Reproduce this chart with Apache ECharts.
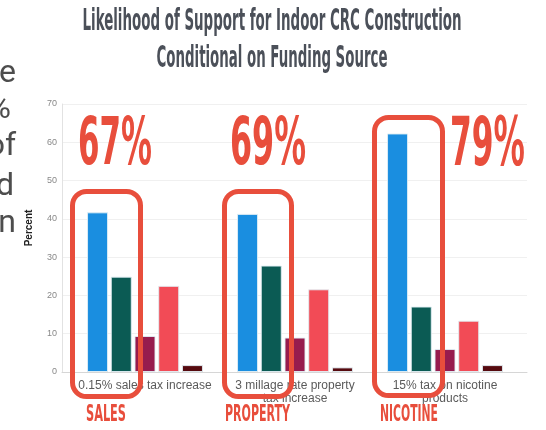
<!DOCTYPE html>
<html>
<head>
<meta charset="utf-8">
<script src="https://cdn.jsdelivr.net/npm/echarts@6/dist/echarts.min.js"></script>
<style>
html, body { margin: 0; padding: 0; background: #fff; }
#chart { width: 546px; height: 430px; }
</style>
</head>
<body>
<div id="chart"></div>
<script>
// funding sources (x categories)
const categories = ['0.15% sales tax increase', '3 millage rate property\ntax increase', '15% tax on nicotine\nproducts'];
// percent of respondents per answer
const veryLikely = [41.7, 41.3, 62.3];
const somewhatLikely = [24.9, 27.8, 17.1];
const somewhatUnlikely = [9.4, 9.0, 6.0];
const veryUnlikely = [22.5, 21.6, 13.4];
const dontKnow = [1.8, 1.2, 1.8];
const supportTotals = ['67%', '69%', '79%'];
const sourceTags = ['SALES', 'PROPERTY', 'NICOTINE'];
const yTicks = [0, 10, 20, 30, 40, 50, 60, 70];

const RED = '#e84e3c';
const CONDENSED = '"Liberation Sans Narrow", "DejaVu Sans Condensed", sans-serif';

// squeeze a text to a given pixel width (the slide uses a very narrow display font)
const measureCtx = document.createElement('canvas').getContext('2d');
const squeeze = (text, font, width) => {
  measureCtx.font = font;
  return width / measureCtx.measureText(text).width;
};

const fitText = (text, cx, cy, width, size, color, sy) => {
  const font = 'bold ' + size + 'px ' + CONDENSED;
  return {
    type: 'text',
    x: cx,
    y: cy,
    scaleX: squeeze(text, font, width),
    scaleY: sy || 1,
    z: 120,
    style: { text: text, x: 0, y: 0, font: font, fill: color, textAlign: 'center', textVerticalAlign: 'middle' }
  };
};

const box = (x, y, w, h) => ({
  type: 'rect',
  z: 110,
  shape: { x: x, y: y, width: w, height: h, r: 14 },
  style: { fill: 'none', stroke: RED, lineWidth: 5 }
});

const sideText = (text, x, y) => ({
  type: 'text',
  x: x,
  y: y,
  z: 100,
  style: { text: text, x: 0, y: 0, font: '32px Roboto, sans-serif', fill: '#4d4d4d', textAlign: 'right', textVerticalAlign: 'bottom' }
});

const makeSeries = (name, data, color) => ({
  name: name,
  type: 'bar',
  xAxisIndex: 1,
  yAxisIndex: 1,
  data: data,
  barWidth: 21,
  barGap: '13%',
  itemStyle: { color: color, borderColor: 'rgba(225,238,244,0.9)', borderWidth: 1 },
  emphasis: { disabled: true }
});

const chart = echarts.init(document.getElementById('chart'));

const option = {
  animation: false,
  backgroundColor: '#fff',
  // grid 0: frame, ticks and gridlines; grid 1: the bars
  grid: [
    { left: 62, right: 19, top: 104, bottom: 58 },
    { left: 70, right: 26, top: 104, bottom: 58 }
  ],
  xAxis: [
    {
      gridIndex: 0,
      type: 'value',
      min: 0,
      max: 1,
      axisLine: { show: true, lineStyle: { color: '#d6d6d6' } },
      axisTick: { show: false },
      axisLabel: { show: false },
      splitLine: { show: false }
    },
    {
      gridIndex: 1,
      type: 'category',
      data: categories,
      axisLine: { show: false },
      axisTick: { show: false },
      axisLabel: { color: '#5a5a5a', fontSize: 12, fontFamily: 'Liberation Sans, Arial, sans-serif', lineHeight: 13, margin: 7, interval: 0 }
    }
  ],
  yAxis: [
    {
      gridIndex: 0,
      type: 'value',
      min: 0,
      max: 70,
      interval: 10,
      axisLine: { show: true, lineStyle: { color: '#e2e2e2' } },
      axisTick: { show: false },
      axisLabel: {
        color: '#888',
        fontSize: 9,
        margin: 5,
        fontFamily: 'Liberation Sans, Arial, sans-serif',
        formatter: (v) => (yTicks.indexOf(v) >= 0 ? String(v) : '')
      },
      splitLine: { lineStyle: { color: '#f0f0f0' } }
    },
    {
      gridIndex: 1,
      type: 'value',
      min: 0,
      max: 70,
      interval: 10,
      show: false,
      splitLine: { show: false }
    }
  ],
  series: [
    makeSeries('Very likely', veryLikely, '#1a8ee0'),
    makeSeries('Somewhat likely', somewhatLikely, '#0b5b54'),
    makeSeries('Somewhat unlikely', somewhatUnlikely, '#971c4e'),
    makeSeries('Very unlikely', veryUnlikely, '#f24b56'),
    makeSeries("Don't know", dontKnow, '#560a0f')
  ],
  graphic: [
    // slide title
    fitText('Likelihood of Support for Indoor CRC Construction', 272, 22, 379, 28, '#4b5059', 1.08),
    fitText('Conditional on Funding Source', 272, 59, 231, 28, '#4b5059', 1.08),
    // cut off text column at the left of the slide
    sideText('e', 16, 90),
    sideText('%', 11, 126),
    sideText('of', 16, 163),
    sideText('d', 14, 203),
    sideText('n', 16, 240),
    // y axis name
    {
      type: 'text',
      x: 29,
      y: 228,
      rotation: Math.PI / 2,
      style: { text: 'Percent', x: 0, y: 0, font: 'bold 10px "Liberation Sans", Arial, sans-serif', fill: '#222', textAlign: 'center', textVerticalAlign: 'middle' }
    },
    // big support totals
    fitText(supportTotals[0], 115, 147, 74, 66, RED),
    fitText(supportTotals[1], 268, 147, 76, 66, RED),
    fitText(supportTotals[2], 487.5, 147, 75, 68, RED),
    // highlight boxes around the "likely" bars
    box(72.5, 191.5, 68, 205),
    box(224.5, 191.5, 67, 205),
    box(374.5, 117.5, 68, 278),
    // funding source tags
    fitText(sourceTags[0], 106, 415, 40, 23, RED),
    fitText(sourceTags[1], 257.5, 415, 65, 23, RED),
    fitText(sourceTags[2], 409, 415, 58, 23, RED)
  ]
};

chart.setOption(option);
</script>
</body>
</html>
